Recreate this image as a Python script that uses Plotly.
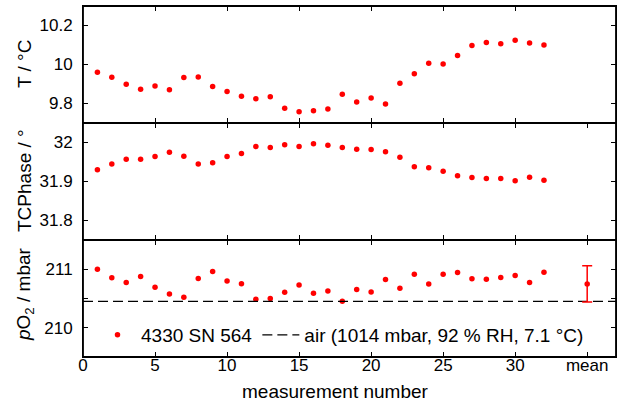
import plotly.graph_objects as go
from plotly.subplots import make_subplots

# ---------------- data ----------------
measurement = list(range(1, 33))

temperature = [9.960, 9.935, 9.899, 9.873, 9.890, 9.870, 9.933, 9.936,
               9.887, 9.861, 9.837, 9.825, 9.835, 9.775, 9.758, 9.763,
               9.772, 9.847, 9.808, 9.828, 9.797, 9.904, 9.952, 10.007,
               10.002, 10.046, 10.098, 10.113, 10.106, 10.125, 10.110, 10.100]

tc_phase = [31.930, 31.945, 31.957, 31.957, 31.964, 31.975, 31.965, 31.945,
            31.948, 31.964, 31.972, 31.990, 31.987, 31.994, 31.990, 31.997,
            31.993, 31.987, 31.983, 31.982, 31.976, 31.962, 31.938, 31.935,
            31.926, 31.915, 31.910, 31.908, 31.908, 31.902, 31.911, 31.903]

po2 = [211.000, 210.854, 210.775, 210.876, 210.691, 210.579, 210.522, 210.843,
       210.961, 210.798, 210.753, 210.489, 210.500, 210.607, 210.730, 210.590,
       210.629, 210.455, 210.652, 210.612, 210.826, 210.674, 210.916, 210.747,
       210.916, 210.944, 210.837, 210.831, 210.860, 210.893, 210.775, 210.949]

mean_position = [35]
po2_mean = [210.75]
po2_mean_err = [0.31]

air_x = [0, 37]
air_po2 = [210.45, 210.45]

x_tickvals = [0, 5, 10, 15, 20, 25, 30, 35]
x_ticktext = ["0", "5", "10", "15", "20", "25", "30", "mean"]

sensor_name = "4330 SN 564"
air_name = "air (1014 mbar, 92 % RH, 7.1 °C)"

# ---------------- figure ----------------
FONT = "Liberation Sans, Arial, sans-serif"
RED = "#ff0000"

fig = make_subplots(rows=3, cols=1, shared_xaxes=True, vertical_spacing=0)

mk = dict(color=RED, size=5.5)
fig.add_trace(go.Scatter(x=measurement, y=temperature, mode="markers",
                         marker=mk, showlegend=False), row=1, col=1)
fig.add_trace(go.Scatter(x=measurement, y=tc_phase, mode="markers",
                         marker=mk, showlegend=False), row=2, col=1)
fig.add_trace(go.Scatter(x=measurement, y=po2, mode="markers",
                         marker=mk, name=sensor_name), row=3, col=1)
fig.add_trace(go.Scatter(x=air_x, y=air_po2, mode="lines",
                         line=dict(color="black", width=1.3, dash="10px,5px"),
                         name=air_name), row=3, col=1)
fig.add_trace(go.Scatter(x=mean_position, y=po2_mean, mode="markers",
                         marker=mk, showlegend=False,
                         error_y=dict(type="data", array=po2_mean_err,
                                      color=RED, thickness=1.5, width=5)),
              row=3, col=1)

axis_common = dict(showline=True, linecolor="black", linewidth=1,
                   mirror="ticks", ticks="inside", ticklen=5, tickwidth=1.2,
                   tickcolor="black", showgrid=False, zeroline=False,
                   automargin=False,
                   tickfont=dict(family=FONT, size=17, color="black"))

for r in (1, 2, 3):
    fig.update_xaxes(range=[0, 37],
                     tickvals=x_tickvals if r > 1 else x_tickvals[:-1],
                     ticktext=x_ticktext if r > 1 else x_ticktext[:-1],
                     showticklabels=(r == 3), ticklabelstandoff=-7,
                     row=r, col=1, **axis_common)

fig.update_yaxes(range=[9.7, 10.3], tickvals=[9.8, 10, 10.2],
                 ticktext=["9.8", "10", "10.2"], ticklabelstandoff=6,
                 row=1, col=1, **axis_common)
fig.update_yaxes(range=[31.75, 32.05], tickvals=[31.8, 31.9, 32],
                 ticktext=["31.8", "31.9", "32"], ticklabelstandoff=6,
                 row=2, col=1, **axis_common)
fig.update_yaxes(range=[209.5, 211.5], tickvals=[210, 211],
                 ticktext=["210", "211"], ticklabelstandoff=6,
                 minor=dict(tickvals=[210.5], ticks="inside", ticklen=5,
                            tickwidth=1.2, tickcolor="black", showgrid=False),
                 row=3, col=1, **axis_common)

L, R, T, B = 83, 5, 6, 46
W, H = 621, 403
pw, ph = W - L - R, H - T - B

def px_x(px):
    return (px - L) / pw

def px_y(py):
    return (H - B - py) / ph

# frame: outer box and panel separators
frame = [dict(type="rect", x0=0, x1=1, y0=0, y1=1)]
for yy in (1 / 3, 2 / 3):
    frame.append(dict(type="line", x0=0, x1=1, y0=yy, y1=yy))
shapes = []
for s in frame:
    s.update(xref="paper", yref="paper", layer="above",
             line=dict(color="black", width=1.8))
    shapes.append(s)

title_font = dict(family=FONT, size=19, color="black")
annotations = [
    dict(text="T / °C", x=px_x(24), y=px_y(64), textangle=-90),
    dict(text="TCPhase / °", x=px_x(24), y=px_y(181), textangle=-90),
    dict(text="<i>p</i>O<sub>2</sub> / mbar", x=px_x(25), y=px_y(294), textangle=-90),
    dict(text="measurement number", x=px_x(335), y=px_y(391), textangle=0),
]
for a in annotations:
    a.update(xref="paper", yref="paper", showarrow=False, font=title_font,
             xanchor="center", yanchor="middle")

fig.update_layout(
    width=W, height=H,
    margin=dict(l=L, r=R, t=T, b=B, autoexpand=False),
    paper_bgcolor="white", plot_bgcolor="white",
    font=dict(family=FONT, size=17, color="black"),
    annotations=annotations,
    shapes=shapes,
    legend=dict(orientation="h", x=px_x(94), y=px_y(335), xanchor="left",
                yanchor="middle", bgcolor="rgba(0,0,0,0)",
                font=dict(family=FONT, size=19, color="black"),
                itemwidth=37, tracegroupgap=0),
)

# remove the browser's default 8px body margin so the figure fills the window
fig.write_html("out.html",
               config={"displayModeBar": False},
               post_script="document.body.style.margin='0';")
